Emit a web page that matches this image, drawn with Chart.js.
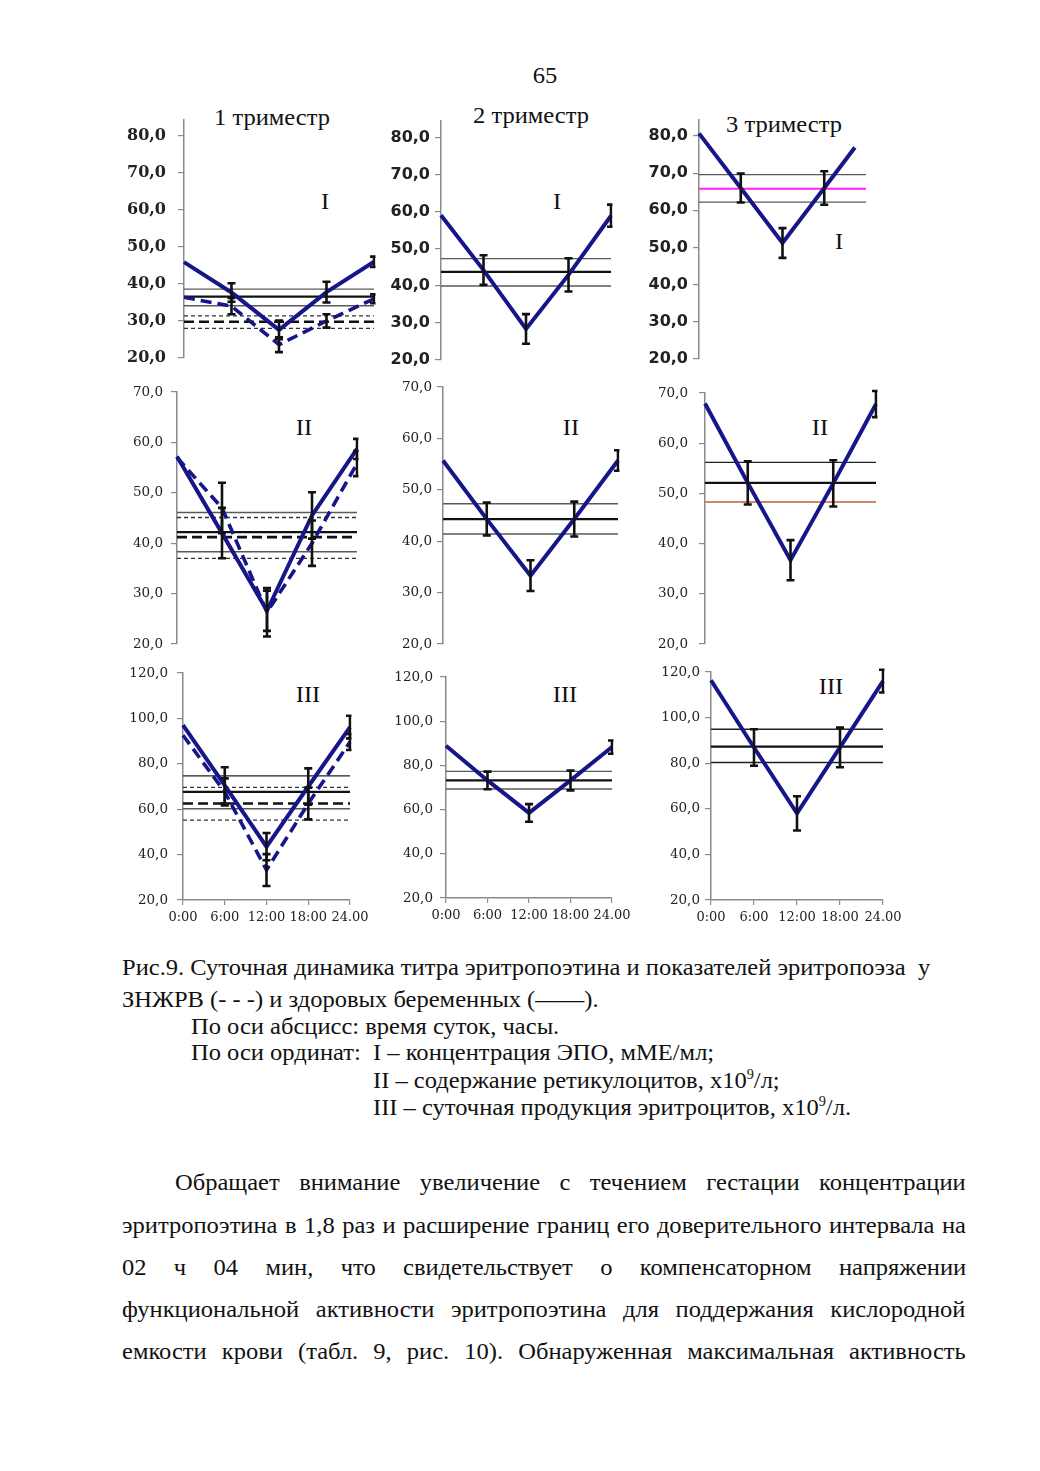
<!DOCTYPE html>
<html><head><meta charset="utf-8">
<script src="https://cdn.jsdelivr.net/npm/chart.js@4.4.1/dist/chart.umd.min.js"></script>
<style>
html,body{margin:0;padding:0;background:#fff;}
body{width:1040px;height:1471px;position:relative;overflow:hidden;font-family:"Liberation Serif","Times New Roman",serif;color:#111;}
canvas{position:absolute;}
.t{position:absolute;white-space:nowrap;line-height:1;font-size:24px;display:inline-block;font-family:"Liberation Serif",serif;}
</style></head><body>

<div class="t c" style="left:545px;top:75px">65</div>
<div class="t c" style="left:272px;top:117px">1 триместр</div>
<div class="t c" style="left:531px;top:115px">2 триместр</div>
<div class="t c" style="left:784px;top:124px">3 триместр</div>

<div class="t c" style="left:325px;top:201px">I</div>
<div class="t c" style="left:557px;top:201px">I</div>
<div class="t c" style="left:839px;top:241px">I</div>
<div class="t c" style="left:304px;top:427px">II</div>
<div class="t c" style="left:571px;top:427px">II</div>
<div class="t c" style="left:820px;top:427px">II</div>
<div class="t c" style="left:308px;top:694px">III</div>
<div class="t c" style="left:565px;top:694px">III</div>
<div class="t c" style="left:831px;top:686px">III</div>

<div class="t s" id="cap1" style="left:122px;top:955px">Рис.9. Суточная динамика титра эритропоэтина и показателей эритропоэза &nbsp;у</div>
<div class="t s" style="left:122px;top:987px">ЗНЖРВ (- - -) и здоровых беременных (——).</div>
<div class="t s" style="left:191px;top:1014px">По оси абсцисс: время суток, часы.</div>
<div class="t s" style="left:191px;top:1040px">По оси ординат: &nbsp;I – концентрация ЭПО, мМЕ/мл;</div>
<div class="t s" style="left:373px;top:1068px">II – содержание ретикулоцитов, х10<sup style="font-size:14px;vertical-align:9px">9</sup>/л;</div>
<div class="t s" style="left:373px;top:1095px">III – суточная продукция эритроцитов, х10<sup style="font-size:14px;vertical-align:9px">9</sup>/л.</div>

<div class="t j" data-w="791" style="left:175px;top:1170px">Обращает внимание увеличение с течением гестации концентрации</div>
<div class="t j" data-w="844" style="left:122px;top:1213px">эритропоэтина в 1,8 раз и расширение границ его доверительного интервала на</div>
<div class="t j" data-w="844" style="left:122px;top:1255px">02 ч 04 мин, что свидетельствует о компенсаторном напряжении</div>
<div class="t j" data-w="844" style="left:122px;top:1297px">функциональной активности эритропоэтина для поддержания кислородной</div>
<div class="t j" data-w="844" style="left:122px;top:1339px">емкости крови (табл. 9, рис. 10). Обнаруженная максимальная активность</div>

<script>
// ---------- DATA ----------
const hours = [0, 6, 12, 18, 24];
const hoursTrim3I = [0, 6, 12, 18, 22.4];
const xTickLabels = ['0:00', '6:00', '12:00', '18:00', '24.00'];
const yTicksI = [20, 30, 40, 50, 60, 70, 80];
const yTicksII = [20, 30, 40, 50, 60, 70];
const yTicksIII = [20, 40, 60, 80, 100, 120];

// I – концентрация ЭПО
const t1_I_healthy = [45.9, 37.7, 27.6, 37.8, 46.0];
const t1_I_healthyErr = [0, 2.5, 2.5, 2.8, 1.4];
const t1_I_znzhrv = [36.4, 34.0, 23.6, 30.0, 36.0];
const t1_I_znzhrvErr = [0, 2.2, 2.0, 1.8, 1.2];
const t1_I_healthyBand = [38.6, 36.6, 34.1];
const t1_I_znzhrvBand = [31.4, 29.8, 28.0];

const t2_I_healthy = [59.1, 44.3, 28.4, 43.0, 59.0];
const t2_I_healthyErr = [0, 4.0, 4.0, 4.5, 3.0];
const t2_I_healthyBand = [47.4, 43.8, 40.0];

const t3_I_healthy = [80.7, 66.0, 51.2, 66.0, 76.9];
const t3_I_healthyErr = [0, 3.9, 4.0, 4.5, 0];
const t3_I_healthyBand = [69.6, 65.8, 62.2];

// II – содержание ретикулоцитов
const t1_II_healthy = [57.2, 42.0, 26.6, 45.5, 58.7];
const t1_II_healthyErr = [0, 5.0, 4.0, 4.6, 2.0];
const t1_II_znzhrv = [57.0, 47.0, 26.3, 40.0, 55.8];
const t1_II_znzhrvErr = [0, 5.0, 4.8, 4.5, 2.5];
const t1_II_healthyBand = [46.1, 42.2, 38.3];
const t1_II_znzhrvBand = [45.1, 41.2, 37.0];

const t2_II_healthy = [55.7, 44.3, 33.3, 44.3, 55.7];
const t2_II_healthyErr = [0, 3.2, 3.0, 3.4, 2.0];
const t2_II_healthyBand = [47.3, 44.3, 41.4];

const t3_II_healthy = [67.9, 52.1, 36.7, 52.0, 67.8];
const t3_II_healthyErr = [0, 4.3, 4.0, 4.6, 2.6];
const t3_II_healthyBand = [56.2, 52.1, 48.3];

// III – суточная продукция эритроцитов
const t1_III_healthy = [97.0, 70.5, 43.5, 70.0, 96.2];
const t1_III_healthyErr = [0, 8.0, 6.0, 8.0, 5.0];
const t1_III_znzhrv = [92.6, 67.6, 33.2, 62.5, 89.6];
const t1_III_znzhrvErr = [0, 6.0, 7.0, 7.0, 3.5];
const t1_III_healthyBand = [74.7, 67.6, 60.2];
const t1_III_znzhrvBand = [69.6, 62.5, 55.2];

const t2_III_healthy = [88.9, 73.2, 58.5, 73.2, 88.3];
const t2_III_healthyErr = [0, 4.0, 4.0, 4.5, 3.0];
const t2_III_healthyBand = [77.3, 73.2, 69.3];

const t3_III_healthy = [116.4, 86.9, 58.0, 86.9, 116.0];
const t3_III_healthyErr = [0, 8.0, 7.5, 8.7, 5.0];
const t3_III_healthyBand = [94.9, 87.3, 80.3];

// ---------- STYLES ----------
const navy = '#16168a';
const S_thin = {c:'#5a5a5a', w:1.4, d:[]};
const S_mean = {c:'#111', w:2.3, d:[]};
const S_dot = {c:'#333', w:1.3, d:[4,3]};
const S_dmean = {c:'#111', w:2.6, d:[10,5]};
const S_mag = {c:'#ff22ff', w:2.2, d:[]};
const S_brown = {c:'#c98a6c', w:2, d:[]};
const S_thinBlack = {c:'#222', w:1.3, d:[]};
const BAND_SOLID = [S_thin, S_mean, S_thin];
const BAND_DASH = [S_dot, S_dmean, S_dot];

const fontTop1 = {family:'DejaVu Serif', size:16, weight:'bold'};
const fontTopS = {family:'DejaVu Sans', size:16, weight:'bold'};
const fontMid = {family:'DejaVu Serif', size:13.5};
const fontX = {family:'DejaVu Serif', size:13};

const fmt = v => Number(v).toFixed(1).replace('.', ',');

const errorBars = {
  id: 'errorBars',
  afterDatasetsDraw(chart) {
    const {ctx, chartArea, scales:{x, y}} = chart;
    ctx.save();
    ctx.beginPath();
    ctx.rect(0, 0, chartArea.right + 1.5, chart.height);
    ctx.clip();
    ctx.strokeStyle = '#111';
    ctx.lineWidth = 2.6;
    chart.data.datasets.forEach(ds => {
      if (!ds.errors) return;
      ds.data.forEach((p, i) => {
        const e = ds.errors[i];
        if (!e) return;
        const px = x.getPixelForValue(p.x);
        const y1 = y.getPixelForValue(p.y + e);
        const y2 = y.getPixelForValue(p.y - e);
        ctx.beginPath();
        ctx.moveTo(px, y1); ctx.lineTo(px, y2);
        ctx.moveTo(px - 4, y1); ctx.lineTo(px + 4, y1);
        ctx.moveTo(px - 4, y2); ctx.lineTo(px + 4, y2);
        ctx.stroke();
      });
    });
    ctx.restore();
  }
};

const panels = [
  {L:184, R:374, T:120, B:358, yMin:20, yMax:84.3, ticks:yTicksI, font:fontTop1, pad:12, xAxis:false,
   series:[{x:hours, y:t1_I_healthy, err:t1_I_healthyErr, dash:false},
           {x:hours, y:t1_I_znzhrv, err:t1_I_znzhrvErr, dash:true}],
   bands:[{v:t1_I_healthyBand, s:BAND_SOLID}, {v:t1_I_znzhrvBand, s:BAND_DASH}]},
  {L:441, R:611, T:120.7, B:359.3, yMin:20, yMax:84.6, ticks:yTicksI, font:fontTopS, pad:5, xAxis:false,
   series:[{x:hours, y:t2_I_healthy, err:t2_I_healthyErr, dash:false}],
   bands:[{v:t2_I_healthyBand, s:[S_thin, S_mean, S_thin]}]},
  {L:699, R:866, T:120, B:359.3, yMin:20, yMax:84.3, ticks:yTicksI, font:fontTopS, pad:5, xAxis:false,
   series:[{x:hoursTrim3I, y:t3_I_healthy, err:t3_I_healthyErr, dash:false}],
   bands:[{v:t3_I_healthyBand, s:[S_thin, S_mag, S_thin]}]},

  {L:177, R:357, T:391.7, B:643.3, yMin:20, yMax:70, ticks:yTicksII, font:fontMid, pad:8, xAxis:false,
   series:[{x:hours, y:t1_II_healthy, err:t1_II_healthyErr, dash:false},
           {x:hours, y:t1_II_znzhrv, err:t1_II_znzhrvErr, dash:true}],
   bands:[{v:t1_II_healthyBand, s:BAND_SOLID}, {v:t1_II_znzhrvBand, s:BAND_DASH}]},
  {L:443, R:618, T:386.7, B:643.3, yMin:20, yMax:70, ticks:yTicksII, font:fontMid, pad:5, xAxis:false,
   series:[{x:hours, y:t2_II_healthy, err:t2_II_healthyErr, dash:false}],
   bands:[{v:t2_II_healthyBand, s:BAND_SOLID}]},
  {L:705, R:876, T:392.7, B:644, yMin:20, yMax:70, ticks:yTicksII, font:fontMid, pad:11, xAxis:false,
   series:[{x:hours, y:t3_II_healthy, err:t3_II_healthyErr, dash:false}],
   bands:[{v:t3_II_healthyBand, s:[S_thinBlack, S_mean, S_brown]}]},

  {L:183, R:350, T:672.7, B:900, yMin:20, yMax:120, ticks:yTicksIII, font:fontMid, pad:9, xAxis:true,
   series:[{x:hours, y:t1_III_healthy, err:t1_III_healthyErr, dash:false},
           {x:hours, y:t1_III_znzhrv, err:t1_III_znzhrvErr, dash:true}],
   bands:[{v:t1_III_healthyBand, s:[S_thinBlack, S_mean, S_thin]}, {v:t1_III_znzhrvBand, s:BAND_DASH}]},
  {L:446, R:612, T:677.3, B:898.3, yMin:20, yMax:120, ticks:yTicksIII, font:fontMid, pad:7, xAxis:true,
   series:[{x:hours, y:t2_III_healthy, err:t2_III_healthyErr, dash:false}],
   bands:[{v:t2_III_healthyBand, s:BAND_SOLID}]},
  {L:711, R:883, T:671.7, B:900, yMin:20, yMax:120, ticks:yTicksIII, font:fontMid, pad:5, xAxis:true,
   series:[{x:hours, y:t3_III_healthy, err:t3_III_healthyErr, dash:false}],
   bands:[{v:t3_III_healthyBand, s:[S_thinBlack, S_mean, S_thinBlack]}]}
];

function makePanel(p) {
  const AX = 70, PT = 32, PR = 26, XH = 28;
  const PB = p.xAxis ? 10 : 32;
  const cv = document.createElement('canvas');
  const W = Math.round((p.R - p.L) + AX + PR);
  const H = Math.round((p.B - p.T) + PT + PB + (p.xAxis ? XH : 0));
  cv.width = W; cv.height = H;
  cv.style.width = W + 'px'; cv.style.height = H + 'px';
  cv.style.left = (p.L - AX) + 'px';
  cv.style.top = (p.T - PT) + 'px';
  document.body.appendChild(cv);

  const datasets = [];
  p.series.forEach(s => {
    datasets.push({
      data: s.x.map((h, i) => ({x: h, y: s.y[i]})),
      errors: s.err,
      borderColor: navy, borderWidth: s.dash ? 3.6 : 4,
      borderDash: s.dash ? [11, 6] : [],
      pointRadius: 0, fill: false, tension: 0, clip: 3
    });
  });
  p.bands.forEach(b => {
    b.v.forEach((v, i) => {
      const st = b.s[i];
      datasets.push({
        data: [{x: 0, y: v}, {x: 24, y: v}],
        borderColor: st.c, borderWidth: st.w, borderDash: st.d,
        pointRadius: 0, fill: false, clip: 3
      });
    });
  });

  const xScale = p.xAxis ? {
    type: 'linear', min: 0, max: 24,
    afterBuildTicks: s => { s.ticks = hours.map(v => ({value: v})); },
    afterFit: s => { s.height = XH; },
    ticks: {autoSkip: false, maxRotation: 0, minRotation: 0, font: fontX, color: '#222', padding: 5,
            callback: (v, i) => xTickLabels[i]},
    grid: {drawOnChartArea: false, drawTicks: true, tickLength: 5, color: '#8a8a8a', lineWidth: 1.2},
    border: {display: true, color: '#8a8a8a', width: 1.5}
  } : {type: 'linear', min: 0, max: 24, display: false};

  new Chart(cv, {
    type: 'line',
    data: {datasets},
    options: {
      responsive: false, animation: false, devicePixelRatio: 1,
      layout: {padding: {left: 0, top: PT, right: PR, bottom: PB}},
      plugins: {legend: {display: false}, tooltip: {enabled: false}},
      scales: {
        x: xScale,
        y: {
          type: 'linear', min: p.yMin, max: p.yMax,
          afterBuildTicks: s => { s.ticks = p.ticks.map(v => ({value: v})); },
          afterFit: s => { s.width = AX; },
          ticks: {callback: v => fmt(v), font: p.font, color: '#222', padding: p.pad},
          grid: {drawOnChartArea: false, drawTicks: true, tickLength: 6, color: '#8a8a8a', lineWidth: 1.2},
          border: {display: true, color: '#8a8a8a', width: 1.5}
        }
      }
    },
    plugins: [errorBars]
  });
}

panels.forEach(makePanel);

// ---------- text condensing (page scan is horizontally compressed) ----------
const cap1 = document.getElementById('cap1');
const sc0 = 808 / cap1.offsetWidth;
document.querySelectorAll('.s').forEach(el => {
  el.style.transformOrigin = '0 50%';
  el.style.transform = `scaleX(${sc0})`;
});
document.querySelectorAll('.c').forEach(el => {
  el.style.transform = `translate(-50%,-50%) scaleX(${sc0})`;
});
document.querySelectorAll('.j').forEach(el => {
  const target = +el.dataset.w;
  const nw = el.offsetWidth;
  const n = (el.textContent.match(/ /g) || []).length;
  let sc = sc0;
  if (nw * sc > target) { sc = target / nw; }
  else if (n) { el.style.wordSpacing = ((target / sc - nw) / n) + 'px'; }
  el.style.transformOrigin = '0 50%';
  el.style.transform = `scaleX(${sc})`;
});
</script>
</body></html>
